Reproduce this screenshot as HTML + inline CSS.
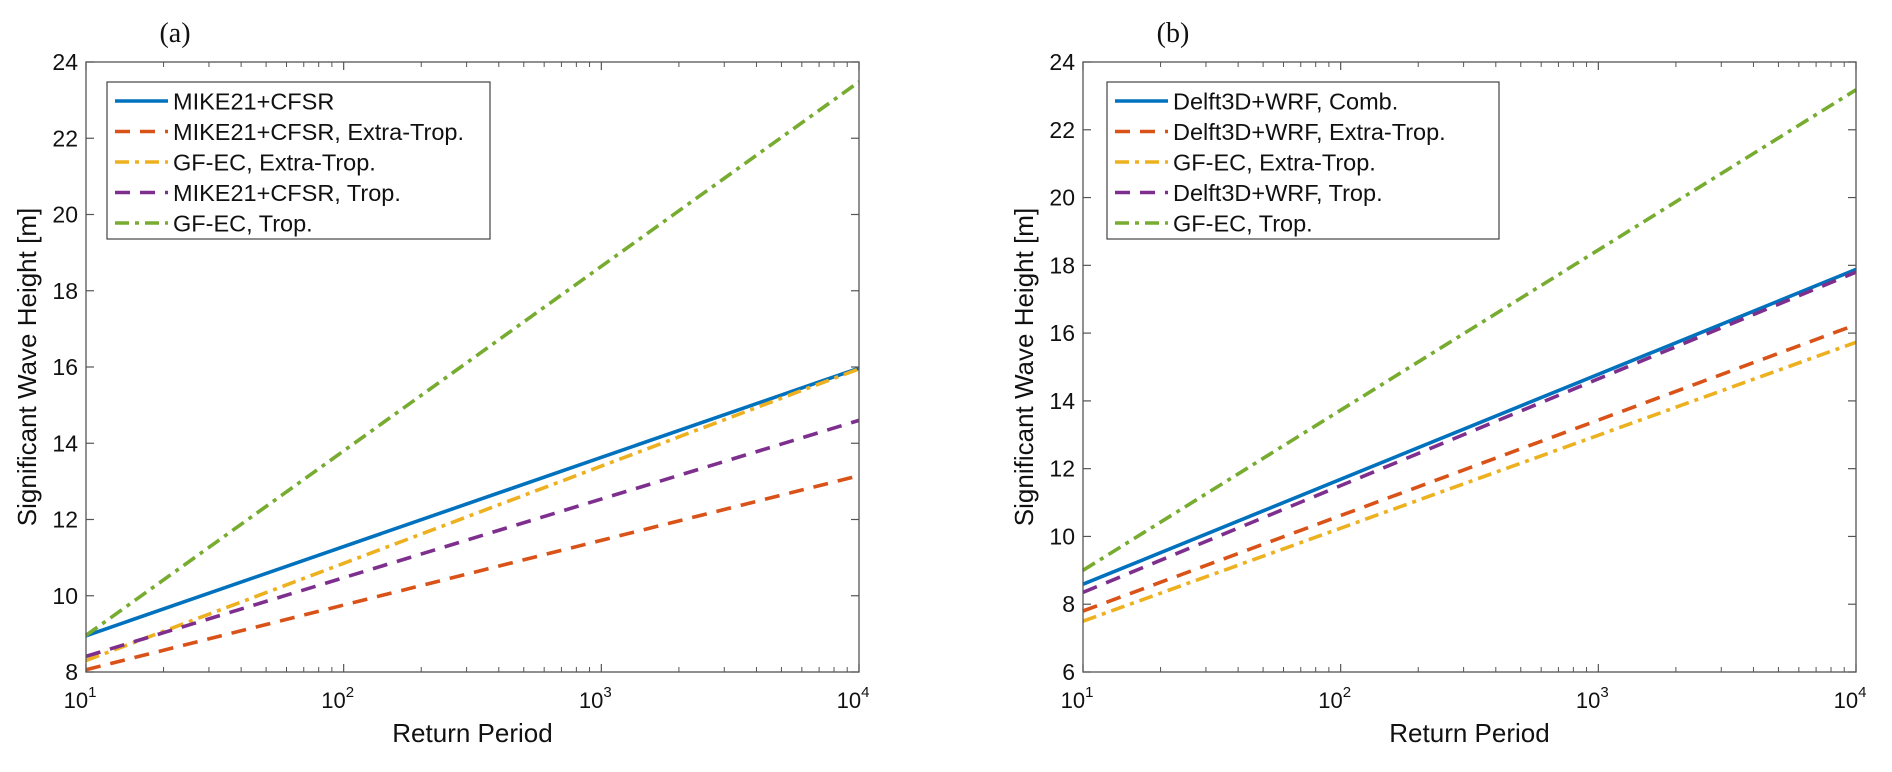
<!DOCTYPE html>
<html><head><meta charset="utf-8"><style>
body{margin:0;background:#fff;width:1892px;height:767px;overflow:hidden}
svg text{font-family:"Liberation Sans",Arial,sans-serif;fill:#111}
</style></head><body>
<svg id="chart" width="1892" height="767" xmlns="http://www.w3.org/2000/svg"></svg>
<script>
const xVals = [10, 10000];
const xTickExps = [1, 2, 3, 4];
const yTicksA = [8, 10, 12, 14, 16, 18, 20, 22, 24];
const yTicksB = [6, 8, 10, 12, 14, 16, 18, 20, 22, 24];
const namesA = ["MIKE21+CFSR", "MIKE21+CFSR, Extra-Trop.", "GF-EC, Extra-Trop.", "MIKE21+CFSR, Trop.", "GF-EC, Trop."];
const namesB = ["Delft3D+WRF, Comb.", "Delft3D+WRF, Extra-Trop.", "GF-EC, Extra-Trop.", "Delft3D+WRF, Trop.", "GF-EC, Trop."];
const seriesA = [[8.95, 15.97], [8.06, 13.15], [8.3, 15.95], [8.41, 14.6], [8.96, 23.48]];
const seriesB = [[8.59, 17.88], [7.8, 16.25], [7.5, 15.73], [8.35, 17.8], [9.0, 23.18]];
const colors = ["#0072BD", "#D95319", "#EDB120", "#7E2F8E", "#77AC30"];
const dashes = ["", "15,10", "14,6,4,6", "15,10", "14,6,4,6"];

const NS = "http://www.w3.org/2000/svg";
const svg = document.getElementById("chart");
function mk(tag, attrs, parent) {
  const e = document.createElementNS(NS, tag);
  for (const k in attrs) e.setAttribute(k, attrs[k]);
  (parent || svg).appendChild(e);
  return e;
}

function panel(opt) {
  const g = mk("g", {});
  
  
  const L = opt.left, R = opt.right, T = 62, B = 672;
  const yMin = opt.yTicks[0], yMax = opt.yTicks[opt.yTicks.length - 1];
  const xs = v => L + (Math.log10(v) - 1) / 3 * (R - L);
  const ys = v => B - (v - yMin) / (yMax - yMin) * (B - T);

  const t = mk("text", {x: opt.titleX, y: 42, "font-size": 28, "text-anchor": "middle", style: "font-family:'Liberation Serif',serif"}, g);
  t.textContent = opt.title;
  
  

  opt.series.forEach((s, i) => {
    const ln = mk("line", {x1: xs(xVals[0]), y1: ys(s[0]), x2: xs(xVals[1]), y2: ys(s[1]),
      stroke: colors[i], "stroke-width": 3.6, "stroke-dasharray": dashes[i]}, g);
    
    
  });

  const box = mk("rect", {x: L, y: T, width: R - L, height: B - T, fill: "none", stroke: "#555", "stroke-width": 1.3}, g);
  
  

  opt.yTicks.forEach(v => {
    const y = ys(v);
    mk("line", {x1: L, y1: y, x2: L + 8, y2: y, stroke: "#555", "stroke-width": 1.2}, g);
    mk("line", {x1: R, y1: y, x2: R - 8, y2: y, stroke: "#555", "stroke-width": 1.2}, g);
    const tl = mk("text", {x: L - 8, y: y + 8, "font-size": 23, "text-anchor": "end"}, g);
    tl.textContent = v;
    
    
  });
  xTickExps.forEach((e, idx) => {
    const x = xs(Math.pow(10, e));
    mk("line", {x1: x, y1: B, x2: x, y2: B - 8, stroke: "#555", "stroke-width": 1.2}, g);
    mk("line", {x1: x, y1: T, x2: x, y2: T + 8, stroke: "#555", "stroke-width": 1.2}, g);
    const tl = mk("text", {x: x - 6, y: 708, "font-size": 22, "text-anchor": "middle"}, g);
    tl.textContent = "10";
    const sp = mk("tspan", {dy: -11, "font-size": 15}, tl);
    sp.textContent = e;
    
    
    if (idx < xTickExps.length - 1) {
      for (let m = 2; m <= 9; m++) {
        const xm = xs(m * Math.pow(10, e));
        mk("line", {x1: xm, y1: B, x2: xm, y2: B - 5, stroke: "#555", "stroke-width": 1}, g);
        mk("line", {x1: xm, y1: T, x2: xm, y2: T + 5, stroke: "#555", "stroke-width": 1}, g);
      }
    }
  });
  const xt = mk("text", {x: (L + R) / 2, y: 742, "font-size": 26, "text-anchor": "middle"}, g);
  xt.textContent = "Return Period";
  
  
  const yx = L - 50, yy = (T + B) / 2;
  const yt = mk("text", {x: yx, y: yy, "font-size": 26, "text-anchor": "middle", transform: `rotate(-90 ${yx} ${yy})`}, g);
  yt.textContent = "Significant Wave Height [m]";
  
  

  const lg = mk("g", {}, g);
  
  
  mk("rect", {x: opt.legX, y: 82, width: opt.legW, height: 157, fill: "#fff", stroke: "#444", "stroke-width": 1.2}, lg);
  opt.names.forEach((n, i) => {
    const cy = 101 + i * 30.5;
    const row = mk("g", {}, lg);
    
    
    mk("line", {x1: opt.legX + 8, y1: cy, x2: opt.legX + 61, y2: cy, stroke: colors[i], "stroke-width": 3.6, "stroke-dasharray": dashes[i]}, row);
    const tx = mk("text", {x: opt.legX + 66, y: cy + 8.5, "font-size": 23.5}, row);
    tx.textContent = n;
  });
}

panel({id: "a", left: 86, right: 859, yTicks: yTicksA, series: seriesA, names: namesA, title: "(a)", titleX: 175, legX: 107, legW: 383});
panel({id: "b", left: 1083, right: 1856, yTicks: yTicksB, series: seriesB, names: namesB, title: "(b)", titleX: 1173, legX: 1107, legW: 392});
</script>
</body></html>
